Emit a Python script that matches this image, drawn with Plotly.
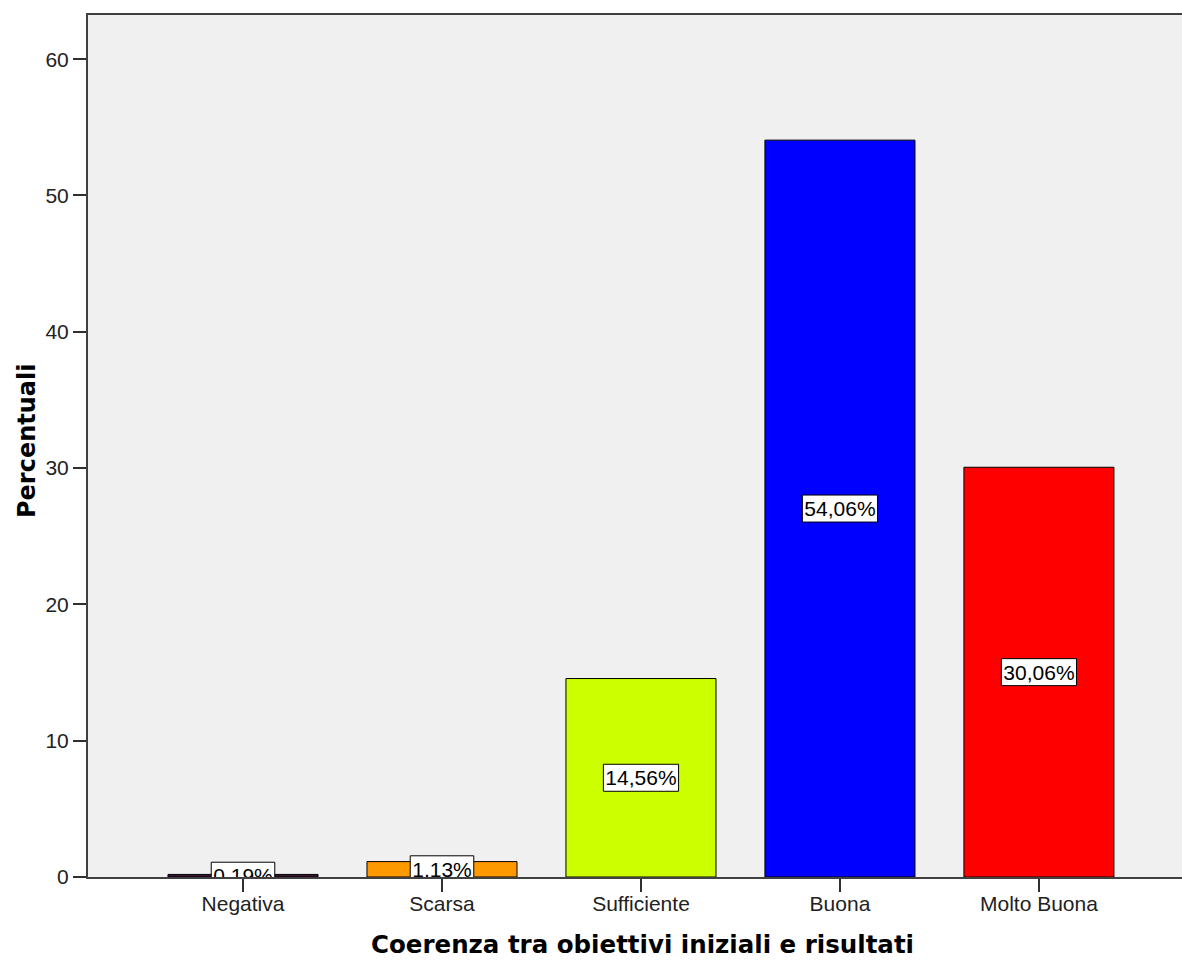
import plotly.graph_objects as go

# Data
categorie = ["Negativa", "Scarsa", "Sufficiente", "Buona", "Molto Buona"]
percentuali = [0.19, 1.13, 14.56, 54.06, 30.06]
etichette = ["0,19%", "1,13%", "14,56%", "54,06%", "30,06%"]
colori = ["#3a1030", "#ff9900", "#ccff00", "#0000ff", "#ff0000"]
y_tick_vals = [0, 10, 20, 30, 40, 50, 60]
titolo_x = "Coerenza tra obiettivi iniziali e risultati"
titolo_y = "Percentuali"

W, H = 1182, 962
M_L, M_R, M_T, M_B = 88, 0, 15, 85
X_RANGE = [-0.779, 4.719]
Y_RANGE = [0, 63.24]
LABEL_FONT = 21

plot_w = W - M_L - M_R
plot_h = H - M_T - M_B
# pixels per data unit on each axis
px_x = plot_w / (X_RANGE[1] - X_RANGE[0])
px_y = plot_h / (Y_RANGE[1] - Y_RANGE[0])

# approximate Arial advance widths (em) for the value labels
_adv = {",": 0.278, "%": 0.889}


def text_px(s, size):
    return sum(_adv.get(c, 0.556) for c in s) * size


box_half_h = 13.5 / px_y
box_w = [(text_px(t, LABEL_FONT) + 4) / px_x for t in etichette]
box_base = [v / 2 - box_half_h for v in percentuali]

fig = go.Figure()
fig.add_trace(go.Bar(
    x=categorie,
    y=percentuali,
    width=0.754,
    marker=dict(color=colori, line=dict(color="#000000", width=1)),
    hoverinfo="x+y",
    showlegend=False,
))

# White value boxes centred at half bar height (clipped by the plot area)
fig.add_trace(go.Bar(
    x=categorie,
    y=[2 * box_half_h] * len(categorie),
    base=box_base,
    width=box_w,
    marker=dict(color="#ffffff", line=dict(color="#000000", width=1)),
    text=etichette,
    textposition="inside",
    insidetextanchor="middle",
    constraintext="none",
    textangle=0,
    insidetextfont=dict(family="Liberation Sans, Arial", size=LABEL_FONT, color="#000000"),
    cliponaxis=True,
    hoverinfo="skip",
    showlegend=False,
))

title_font = dict(family="DejaVu Sans", size=24.5, color="#000000", weight="bold")
annotations = [
    dict(text=titolo_x, xref="paper", yref="paper",
         x=(642.5 - M_L) / plot_w, y=-(945 - (H - M_B)) / plot_h,
         xanchor="center", yanchor="middle", showarrow=False, font=title_font),
    dict(text=titolo_y, xref="paper", yref="paper", textangle=-90,
         x=(27 - M_L) / plot_w, y=((H - M_B) - 441) / plot_h,
         xanchor="center", yanchor="middle", showarrow=False,
         font=dict(title_font, size=24)),
]

fig.update_layout(
    width=W, height=H,
    margin=dict(l=M_L, r=M_R, t=M_T, b=M_B),
    paper_bgcolor="#ffffff",
    plot_bgcolor="#f0f0f0",
    barmode="overlay",
    annotations=annotations,
    font=dict(family="Liberation Sans, Arial", size=21, color="#222222"),
    xaxis=dict(
        type="category",
        range=X_RANGE,
        showline=True, linecolor="#404040", linewidth=2, mirror=True,
        ticks="outside", ticklen=13, tickcolor="#303030", tickwidth=2,
        ticklabelstandoff=-6,
        showgrid=False, zeroline=False,
        tickfont=dict(family="Liberation Sans, Arial", size=21, color="#222222"),
        automargin=False,
    ),
    yaxis=dict(
        range=Y_RANGE,
        tickvals=y_tick_vals,
        showline=True, linecolor="#404040", linewidth=2,
        ticks="outside", ticklen=13, tickcolor="#303030", tickwidth=2,
        showgrid=False, zeroline=False,
        tickfont=dict(family="Liberation Sans, Arial", size=21, color="#222222"),
        automargin=False,
    ),
)

fig.write_html("out.html")
